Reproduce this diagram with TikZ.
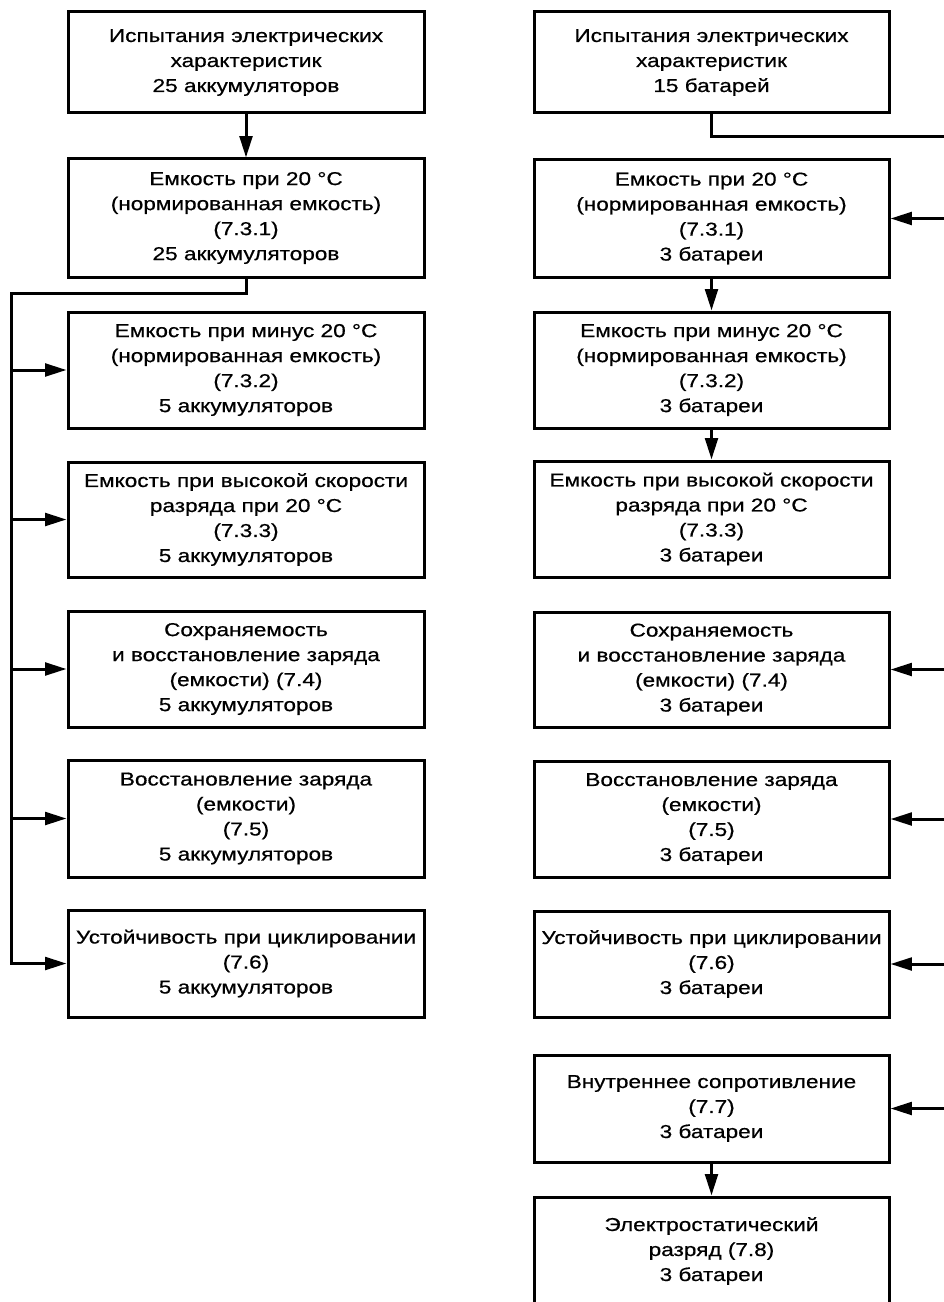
\documentclass[tikz,border=0pt]{standalone}
\usepackage{fontspec}
\setmainfont[FakeStretch=1.21,FakeBold=0.6]{Liberation Sans}
\usetikzlibrary{arrows.meta}
\begin{document}
\begin{tikzpicture}[x=0.75pt,y=-0.75pt,
  box/.style={draw, line width=2.25pt, align=center, inner sep=0pt,
    font=\fontsize{14}{18.75}\selectfont},
  lbox/.style={box, minimum width=267pt},
  rbox/.style={box, minimum width=266.25pt},
  conn/.style={line width=2.25pt},
  arr/.style={conn, -{Triangle[length=16pt,width=9.5pt]}}]
\useasboundingbox (0,0) rectangle (944,1302);
\clip (0,0) rectangle (944,1302);
% left column
\node[lbox, minimum height=75.75pt] (L1) at (246,62.5) {Испытания электрических\\характеристик\\25 аккумуляторов};
\node[lbox, minimum height=88.5pt] (L2) at (246,218) {Емкость при 20 °C\\(нормированная емкость)\\(7.3.1)\\25 аккумуляторов};
\node[lbox, minimum height=87pt] (L3) at (246,370) {Емкость при минус 20 °C\\(нормированная емкость)\\(7.3.2)\\5 аккумуляторов};
\node[lbox, minimum height=86.25pt] (L4) at (246,519.5) {Емкость при высокой скорости\\разряда при 20 °C\\(7.3.3)\\5 аккумуляторов};
\node[lbox, minimum height=87pt] (L5) at (246,669) {Сохраняемость\\и восстановление заряда\\(емкости) (7.4)\\5 аккумуляторов};
\node[lbox, minimum height=87.75pt] (L6) at (246,818.5) {Восстановление заряда\\(емкости)\\(7.5)\\5 аккумуляторов};
\node[lbox, minimum height=80.25pt] (L7) at (246,963.5) {Устойчивость при циклировании\\(7.6)\\5 аккумуляторов};
% right column
\node[rbox, minimum height=75.75pt] (R1) at (711.5,62.5) {Испытания электрических\\характеристик\\15 батарей};
\node[rbox, minimum height=87.75pt] (R2) at (711.5,218.5) {Емкость при 20 °C\\(нормированная емкость)\\(7.3.1)\\3 батареи};
\node[rbox, minimum height=87pt] (R3) at (711.5,370) {Емкость при минус 20 °C\\(нормированная емкость)\\(7.3.2)\\3 батареи};
\node[rbox, minimum height=87pt] (R4) at (711.5,519) {Емкость при высокой скорости\\разряда при 20 °C\\(7.3.3)\\3 батареи};
\node[rbox, minimum height=86.25pt] (R5) at (711.5,669.5) {Сохраняемость\\и восстановление заряда\\(емкости) (7.4)\\3 батареи};
\node[rbox, minimum height=87pt] (R6) at (711.5,819) {Восстановление заряда\\(емкости)\\(7.5)\\3 батареи};
\node[rbox, minimum height=79.5pt] (R7) at (711.5,964) {Устойчивость при циклировании\\(7.6)\\3 батареи};
\node[rbox, minimum height=80.25pt] (R8) at (711.5,1108.5) {Внутреннее сопротивление\\(7.7)\\3 батареи};
\node[rbox, minimum height=81pt] (R9) at (711.5,1251) {Электростатический\\разряд (7.8)\\3 батареи};
% left connectors
\coordinate (lb) at (11,293);
\draw[arr] (L1.south) -- (L2.north);
\draw[arr] (L2.south) |- (lb) |- (L7.west);
\draw[arr] (L3.west -| lb) -- (L3.west);
\draw[arr] (L4.west -| lb) -- (L4.west);
\draw[arr] (L5.west -| lb) -- (L5.west);
\draw[arr] (L6.west -| lb) -- (L6.west);
% right connectors
\coordinate (rb) at (948,137);
\draw[conn] (R1.south) |- (rb) |- (R8.east -| rb);
\draw[arr] (R2.east -| rb) -- (R2.east);
\draw[arr] (R5.east -| rb) -- (R5.east);
\draw[arr] (R6.east -| rb) -- (R6.east);
\draw[arr] (R7.east -| rb) -- (R7.east);
\draw[arr] (R8.east -| rb) -- (R8.east);
\draw[arr] (R2.south) -- (R3.north);
\draw[arr] (R3.south) -- (R4.north);
\draw[arr] (R8.south) -- (R9.north);
\end{tikzpicture}
\end{document}
